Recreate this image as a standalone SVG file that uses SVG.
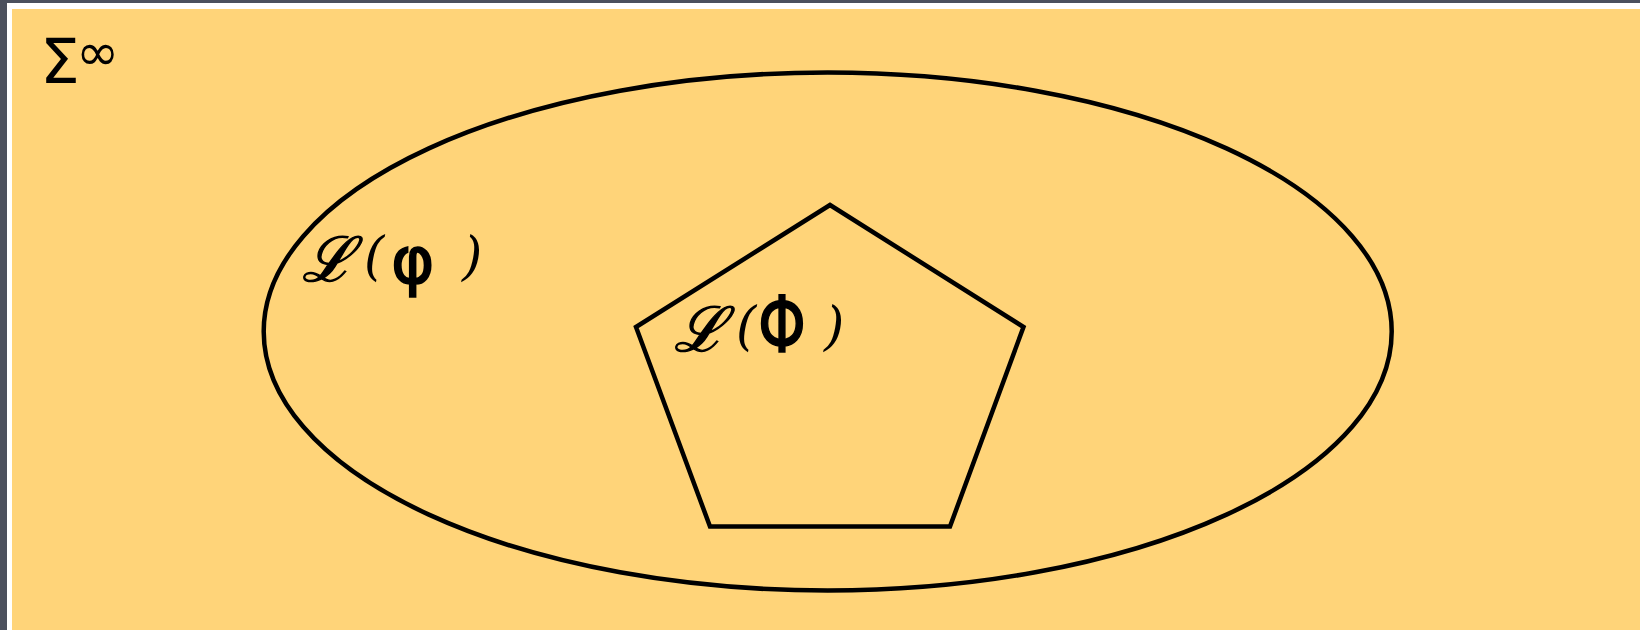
<svg xmlns="http://www.w3.org/2000/svg" width="1640" height="630" viewBox="0 0 1640 630">
<style>
.shape{fill:none;stroke:#000;stroke-width:4.5;stroke-linejoin:miter}
.t{fill:#000;font-family:"DejaVu Sans","Noto Sans",sans-serif}
.g{fill:#000;stroke:#000;stroke-width:1.6;font-family:"DejaVu Sans","Noto Sans",sans-serif}
.scr{fill:#000;stroke:#000;stroke-width:1.3;font-family:"DejaVu Serif","Liberation Serif",serif;font-style:italic}
.par{fill:#000;font-family:"DejaVu Serif","Liberation Serif",serif;font-style:italic}
</style>
<rect x="0" y="0" width="1640" height="630" fill="#4b505d"/>
<rect x="7" y="3" width="1633" height="627" fill="#ffffff"/>
<rect x="12" y="9" width="1628" height="621" fill="#ffd479"/>
<g id="universe-label">
<text class="t" x="40" y="83" font-size="63">Σ</text>
<text class="t" x="76" y="70" font-size="52">∞</text>
</g>
<g id="ellipse-node">
<ellipse class="shape" cx="827.7" cy="331.5" rx="564" ry="259"/>
<text class="scr" x="302" y="281" font-size="62">ℒ</text>
<text class="par" x="364" y="274" font-size="52">(</text>
<text class="g" x="391" y="283" font-size="66">φ</text>
<text class="par" x="462" y="274" font-size="52">)</text>
</g>
<g id="pentagon-node">
<polygon class="shape" points="830,205 1023.5,327 950,526.5 710,526.5 636,327"/>
<text class="scr" x="674" y="351" font-size="62">ℒ</text>
<text class="par" x="736" y="344" font-size="52">(</text>
<text class="g" transform="translate(758,352) scale(0.78,1)" font-size="78" stroke-width="2">Φ</text>
<text class="par" x="824" y="344" font-size="52">)</text>
</g>
<g id="connectors"></g>
</svg>
